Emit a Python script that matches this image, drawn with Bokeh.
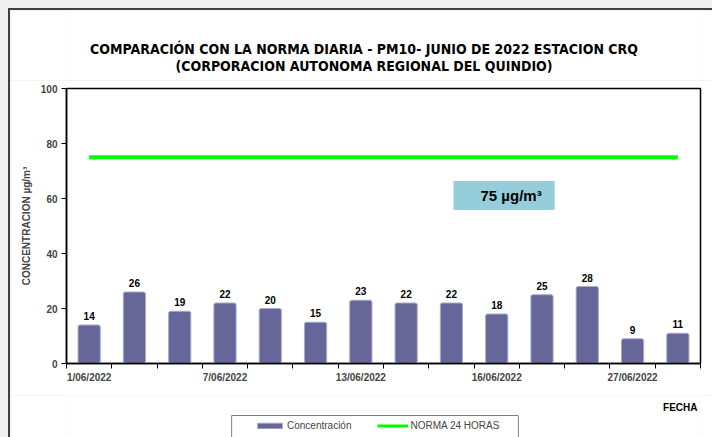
from bokeh.plotting import figure
from bokeh.models import (Range1d, FixedTicker, LinearAxis, Label, Legend, LegendItem,
                          ColumnDataSource)
from bokeh.layouts import column
from bokeh.core.properties import value
from bokeh.embed import file_html
from bokeh.resources import INLINE

# ---- data ----
fechas = ["1/06/2022", "2/06/2022", "3/06/2022", "7/06/2022", "8/06/2022", "9/06/2022",
          "13/06/2022", "14/06/2022", "15/06/2022", "16/06/2022", "17/06/2022", "18/06/2022",
          "27/06/2022", "28/06/2022"]
concentracion = [14, 26, 19, 22, 20, 15, 23, 22, 22, 18, 25, 28, 9, 11]
norma = [75] * len(concentracion)
tick_idx = [0, 3, 6, 9, 12]
y_ticks = [0, 20, 40, 60, 80, 100]

titulo1 = "COMPARACIÓN CON LA NORMA DIARIA - PM10- JUNIO DE 2022 ESTACION CRQ"
titulo2 = "(CORPORACION AUTONOMA REGIONAL DEL QUINDIO)"
serie1 = "Concentración"
serie2 = "NORMA 24 HORAS"
eje_x = "FECHA"
eje_y = "CONCENTRACION µg/m³"
norma_txt = "75 µg/m³"

FONT = "Liberation Sans"
NARROW = "'DejaVu Sans Condensed', sans-serif"
BAR = "#666699"
BAR_LINE = "#a9a9c9"
GREEN = "#00ff00"
W = 704
BORDER = "2px solid #404040"

n = len(concentracion)
xc = [i + 0.5 for i in range(n)]
src = ColumnDataSource(dict(x=xc, y=concentracion, n=norma,
                            lbl=[str(v) for v in concentracion]))


def blank(h):
    f = figure(width=W, height=h, output_backend="svg", toolbar_location=None, title=None,
               x_range=Range1d(0, 1), y_range=Range1d(0, 1), x_axis_type=None,
               y_axis_type=None, min_border=0)
    f.outline_line_color = None
    f.background_fill_color = "white"
    f.border_fill_color = "white"
    f.xgrid.visible = False
    f.ygrid.visible = False
    return f


# ---------- title strip ----------
p0 = blank(72)
p0.styles = {"border-left": BORDER, "border-top": BORDER}
for txt, yy in ((titulo1, 34), (titulo2, 17)):
    p0.add_layout(Label(x=297.5, y=yy, x_units="screen", y_units="screen", text=txt,
                        text_align="center", text_baseline="middle", text_font=NARROW,
                        text_font_style="bold", text_font_size="14px", text_color="black"))

# ---------- main chart ----------
p = figure(width=W, height=315, output_backend="svg", toolbar_location=None, title=None,
           x_range=Range1d(0, n), y_range=Range1d(0, 100),
           min_border_left=56, min_border_right=14, min_border_top=8, min_border_bottom=32,
           x_axis_type=None)
p.styles = {"border-left": BORDER}
p.background_fill_color = "white"
p.border_fill_color = "white"
p.outline_line_color = "black"
p.outline_line_width = 1.5
p.xgrid.visible = False
p.ygrid.visible = False

p.vbar(x="x", top="y", width=0.49, source=src, fill_color=BAR,
       line_color=BAR_LINE, line_width=1, border_radius=2)
p.line(x="x", y="n", source=src, line_color=GREEN, line_width=4)
p.text(x="x", y="y", text="lbl", source=src, text_align="center", text_baseline="bottom",
       y_offset=-5, text_font=value(FONT), text_font_style="bold", text_font_size="10px",
       text_color="black")

ya = p.yaxis[0]
ya.ticker = FixedTicker(ticks=y_ticks)
ya.axis_label = eje_y
ya.axis_label_text_font = FONT
ya.axis_label_text_font_style = "bold"
ya.axis_label_text_font_size = "10px"
ya.axis_label_standoff = 6
ya.major_label_text_font = FONT
ya.major_label_text_font_style = "bold"
ya.major_label_text_font_size = "10px"
ya.major_label_standoff = 4
ya.major_tick_in = 0
ya.major_tick_out = 5
ya.minor_tick_in = 0
ya.minor_tick_out = 0
ya.axis_line_width = 1.5
ya.axis_line_color = "black"

xa = LinearAxis(ticker=FixedTicker(ticks=[xc[i] for i in tick_idx],
                                   minor_ticks=list(range(n + 1))))
xa.major_label_overrides = {xc[i]: fechas[i] for i in tick_idx}
xa.major_tick_in = 0
xa.major_tick_out = 0
xa.minor_tick_in = 0
xa.minor_tick_out = 5
xa.minor_tick_line_color = "black"
xa.minor_tick_line_width = 1
xa.axis_line_width = 1.5
xa.axis_line_color = "black"
xa.major_label_standoff = 3
xa.major_label_text_font = FONT
xa.major_label_text_font_style = "bold"
xa.major_label_text_font_size = "10px"
p.add_layout(xa, "below")

p.add_layout(Label(x=387, y=168, x_units="screen", y_units="screen", text=norma_txt,
                   text_align="left", text_baseline="middle", text_font=FONT,
                   text_font_style="bold", text_font_size="15px", text_color="black",
                   background_fill_color="#96cddb", padding=(27, 13, 6, 6)))

# ---------- legend strip ----------
p2 = blank(42)
p2.styles = {"border-left": BORDER}
p2.add_layout(Label(x=631, y=30, x_units="screen", y_units="screen", text=eje_x,
                    text_align="right", text_baseline="middle", text_font=FONT,
                    text_font_style="bold", text_font_size="10px", text_color="black"))
p2.add_layout(Label(x=308.5, y=22, x_units="screen", y_units="screen", text=" ",
                    text_align="center", text_baseline="top", text_font=FONT,
                    text_font_size="10px", border_line_color="#808080", border_line_width=1,
                    background_fill_alpha=0, padding=(142, 142, 4, 12)))
r_bar = p2.vbar(x="x", top="y", width=0.5, source=src, fill_color=BAR, line_color=BAR_LINE,
                visible=False)
r_line = p2.line(x="x", y="n", source=src, line_color=GREEN, line_width=3, visible=False)
legend = Legend(items=[LegendItem(label=serie1, renderers=[r_bar]),
                       LegendItem(label=serie2, renderers=[r_line])],
                orientation="horizontal", location=(188, 6), padding=0, margin=0,
                border_line_alpha=0, background_fill_alpha=0, glyph_width=31, glyph_height=7,
                label_standoff=2, spacing=26, label_height=10, inactive_fill_alpha=0,
                label_text_font=FONT, label_text_font_size="10px")
p2.add_layout(legend, "center")

layout = column(p0, p, p2, spacing=0)

html = file_html(layout, INLINE)
html = html.replace("<head>", "<head><style>html,body{background:#f0f0f0;overflow:hidden;}"
                    "body{padding:8px 0 0 8px !important;}</style>", 1)
open("out.html", "w").write(html)
